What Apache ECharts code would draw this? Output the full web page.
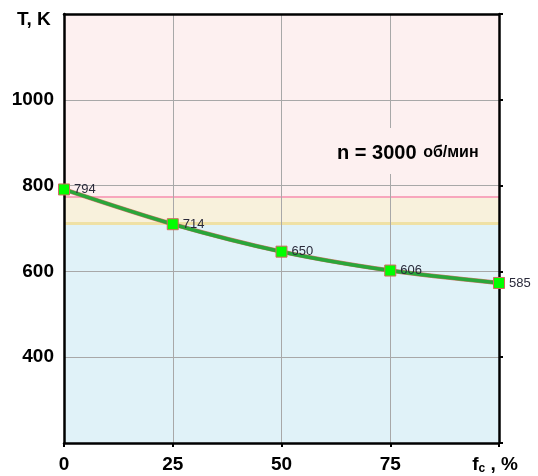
<!DOCTYPE html>
<html>
<head>
<meta charset="utf-8">
<script src="https://cdn.jsdelivr.net/npm/echarts@6/dist/echarts.min.js"></script>
<style>html,body{margin:0;padding:0;background:#fff}#c{width:538px;height:476px}</style>
</head>
<body>
<div id="c"></div>
<script>
// Data
var fcValues = [0, 25, 50, 75, 100];
var tempValues = [791, 710, 646, 602, 573];
var tempLabels = ['794', '714', '650', '606', '585'];
var xTickLabels = ['0', '25', '50', '75'];
var yTickLabels = ['400', '600', '800', '1000'];
var bandTop = 1200, bandPink = 773, bandCream = 712, bandBottom = 200;

var font = 'Liberation Sans, Arial, sans-serif';
var chart = echarts.init(document.getElementById('c'));
var pts = fcValues.map(function (x, i) { return [x, tempValues[i]]; });

chart.setOption({
  animation: false,
  grid: { left: 64, right: 39, top: 14, bottom: 33 },
  xAxis: [{
    type: 'value', min: 0, max: 100, interval: 25, position: 'bottom',
    axisLine: { show: true, onZero: false, lineStyle: { color: '#000', width: 2.5 } },
    axisTick: { show: true, length: 4, lineStyle: { color: '#000', width: 2 } },
    splitLine: { show: true, lineStyle: { color: '#a8a8a8', width: 1 } },
    axisLabel: {
      margin: 12, color: '#000', fontFamily: font, fontWeight: 'bold', fontSize: 19,
      formatter: function (v) {
        var i = fcValues.indexOf(v);
        if (i >= 0 && i < xTickLabels.length) return xTickLabels[i];
        if (v === 100) return '{a|f}{b|c}{a| , %}{p|}';
        return '';
      },
      rich: {
        a: { fontFamily: font, fontWeight: 'bold', fontSize: 19, color: '#000' },
        b: { fontFamily: font, fontWeight: 'bold', fontSize: 12, color: '#000', padding: [8, 0, 0, 0] },
        p: { width: 8 }
      }
    }
  }, {
    type: 'value', min: 0, max: 100, interval: 25, position: 'top',
    axisLine: { show: true, onZero: false, lineStyle: { color: '#000', width: 2.5 } },
    axisTick: { show: false }, axisLabel: { show: false }, splitLine: { show: false }
  }],
  yAxis: [{
    type: 'value', min: 200, max: 1200, interval: 200, position: 'left',
    axisLine: { show: true, onZero: false, lineStyle: { color: '#000', width: 2.5 } },
    axisTick: { show: false },
    splitLine: { show: true, lineStyle: { color: '#a8a8a8', width: 1 } },
    axisLabel: {
      margin: 10, color: '#000', fontFamily: font, fontWeight: 'bold', fontSize: 19,
      formatter: function (v) {
        var s = String(v);
        return yTickLabels.indexOf(s) >= 0 ? s : '';
      }
    }
  }, {
    type: 'value', min: 200, max: 1200, interval: 200, position: 'right',
    axisLine: { show: true, onZero: false, lineStyle: { color: '#000', width: 2.5 } },
    axisTick: { show: true, length: 4, lineStyle: { color: '#000', width: 2 } },
    axisLabel: { show: false }, splitLine: { show: false }
  }],
  graphic: [
    { type: 'text', left: 17, top: 10, z: 100,
      style: { text: 'T, K', fill: '#000', font: 'bold 19px ' + font } },
    { type: 'rect', shape: { x: 330, y: 128, width: 166, height: 46 }, z: 50,
      style: { fill: '#fdf0f0' } },
    { type: 'text', x: 337, y: 153, z: 100,
      style: { text: '{n|n = 3000}  {u|об/мин}', verticalAlign: 'middle',
        rich: {
          n: { font: 'bold 20px ' + font, fill: '#000' },
          u: { font: 'bold 16px ' + font, fill: '#000' }
        } } }
  ],
  series: [{
    type: 'line', data: [], z: -1, silent: true,
    markArea: {
      silent: true, z: -3,
      data: [
        [{ yAxis: bandTop, itemStyle: { color: '#fdf0f0' } }, { yAxis: bandPink }],
        [{ yAxis: bandPink, itemStyle: { color: '#f8f1dc' } }, { yAxis: bandCream }],
        [{ yAxis: bandCream, itemStyle: { color: '#e0f2f8' } }, { yAxis: bandBottom }]
      ]
    },
    markLine: {
      silent: true, z: -2, symbol: 'none', label: { show: false },
      data: [
        { yAxis: bandPink, lineStyle: { color: '#f8a6bd', width: 2, type: 'solid' } },
        { yAxis: bandCream, lineStyle: { color: '#efe1a5', width: 3, type: 'solid' } }
      ]
    }
  }, {
    type: 'line', data: pts, smooth: 0.3, symbol: 'none', z: 3,
    lineStyle: { color: '#c87a6a', width: 4.5 }
  }, {
    type: 'line', data: pts, smooth: 0.3, z: 4,
    symbol: 'rect', symbolSize: 11,
    lineStyle: { color: '#2aa63a', width: 3.5 },
    itemStyle: { color: '#00ff00', borderColor: '#d06a60', borderWidth: 1 },
    label: {
      show: true, position: 'right', distance: 4,
      color: '#2a2a3a', fontFamily: font, fontSize: 13,
      formatter: function (p) { return tempLabels[p.dataIndex]; }
    }
  }]
});
</script>
</body>
</html>
